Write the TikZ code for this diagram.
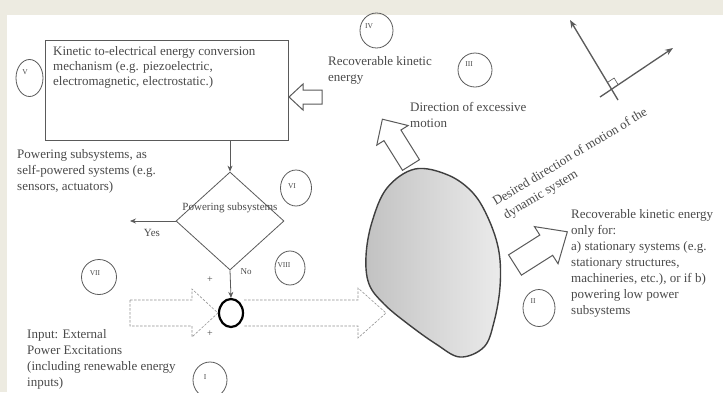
\documentclass[tikz,border=0pt]{standalone}
\usepackage{fontspec}
\setmainfont{Liberation Serif}
\usetikzlibrary{arrows.meta,shapes.geometric}
\definecolor{bg}{HTML}{EDEBE1}
\definecolor{ink}{HTML}{4A4A4A}
\definecolor{ln}{HTML}{5A5A5A}
\definecolor{blobdark}{HTML}{C2C2C2}
\definecolor{bloblight}{HTML}{EBEBEB}
\begin{document}
\begin{tikzpicture}[x=1pt,y=-1pt,
  txt/.style={font=\fontsize{13}{16}\selectfont, text=ink, align=left, anchor=north west, inner sep=0pt},
  num/.style={font=\fontsize{7.5}{8}\selectfont, text=ink, inner sep=0pt},
  ring/.style={ellipse, draw=ln, line width=0.8pt, inner sep=0pt},
  flow/.style={draw=ln, line width=0.8pt, -{Stealth[length=6pt,width=5pt]}},
  axarrow/.style={draw=ln, line width=1.3pt, -{Stealth[length=8pt,width=6pt]}},
  hollow/.style={draw=ln, line width=1pt, fill=white, line join=miter},
  dasharrow/.style={draw=gray!85, line width=0.6pt, dash pattern=on 2.5pt off 1.5pt}]
\useasboundingbox (0,0) rectangle (723,392);
\fill[bg] (0,0) rectangle (723,392);
\fill[white] (7,15) rectangle (723,392);

% conversion box
\node[draw=ln, line width=0.8pt, minimum width=243, minimum height=100, inner sep=0pt] (box) at (166.5,90) {};
\node[txt, font=\fontsize{13}{15}\selectfont] (boxt) at (53,46) {Kinetic to-electrical energy conversion\\mechanism (e.g. piezoelectric,\\electromagnetic, electrostatic.)};

% circles with numerals
\node[ring, minimum width=27, minimum height=37] (c5) at (29.5,78) {};
\node[num] (n5) at (25,72) {V};
\node[ring, minimum width=33, minimum height=35] (c4) at (376.5,30.5) {};
\node[num] (n4) at (369,26) {IV};
\node[ring, minimum width=34, minimum height=34] (c3) at (475,70) {};
\node[num] (n3) at (469,64) {III};
\node[ring, minimum width=31, minimum height=36] (c6) at (296,188) {};
\node[num] (n6) at (292,186) {VI};
\node[ring, minimum width=30, minimum height=34] (c8) at (290,268) {};
\node[num] (n8) at (284,265) {VIII};
\node[ring, minimum width=35, minimum height=35] (c7) at (99,277) {};
\node[num] (n7) at (95,273) {VII};
\node[ring, minimum width=34, minimum height=36] (c1) at (210,380) {};
\node[num] (n1) at (205,377) {I};
\node[ring, minimum width=32, minimum height=37] (c2) at (539,308) {};
\node[num] (n2) at (533,301) {II};

% texts
\node[txt] (rke) at (328,56) {Recoverable kinetic\\energy};
\node[txt] (dem) at (410,102) {Direction of excessive\\motion};
\node[txt] (pws) at (17,149) {Powering subsystems, as\\self-powered systems (e.g.\\sensors, actuators)};
\node[txt] (rko) at (571,209) {Recoverable kinetic energy\\only for:\\a) stationary systems (e.g.\\stationary structures,\\machineries, etc.), or if b)\\powering low power\\subsystems};
\node[txt, font=\fontsize{13}{17}\selectfont, rotate=31] (des) at (491,198) {Desired direction of motion of the\\\hspace*{2pt}dynamic system};
\node[txt] (inp) at (27,329) {Input: External\\Power Excitations\\(including renewable energy\\inputs)};

% decision diamond
\node[diamond, draw=ln, line width=0.8pt, minimum width=108, minimum height=98, inner sep=0pt] (dec) at (230,221) {};
\node[font=\fontsize{11}{12}\selectfont, text=ink, inner sep=0pt] (dect) at (230,208) {Powering subsystems};
\draw[flow] (box.south -| dec.north) -- (dec.north);
\coordinate (yesend) at (130,221);
\draw[flow] (dec.west) -- (yesend);
\node[font=\fontsize{11}{12}\selectfont, text=ink, inner sep=0pt] (yes) at (152,233) {Yes};

% summing ring
\node[ellipse, draw=black, line width=2.2pt, minimum width=24, minimum height=28, inner sep=0pt] (sum) at (231,313) {};
\draw[flow] (dec.south) -- (sum.north);
\node[font=\fontsize{9}{10}\selectfont, text=ink, inner sep=0pt] (no) at (246,272) {No};
\node[font=\fontsize{10}{10}\selectfont, text=ink, inner sep=0pt] (plusA) at (210,280) {+};
\node[font=\fontsize{10}{10}\selectfont, text=ink, inner sep=0pt] (plusB) at (210,334) {+};

% dashed arrows
\draw[dasharrow] (130,300) -- (192,300) -- (192,289) -- (sum.west) -- (192,337) -- (192,326) -- (130,326) -- cycle;
\draw[dasharrow] (sum.east |- 0,300) -- (358,300) -- (358,288) -- (386,313) -- (358,338) -- (358,326) -- (sum.east |- 0,326);

% blob
\shade[left color=blobdark, right color=bloblight, draw=ln!70!black, line width=1.4pt]
  plot[smooth cycle, tension=0.6] coordinates {(415,169) (448,175) (473,193) (489,220) (499,252) (500,287) (494,322) (484,347) (460,357) (436,344) (408,324) (384,304) (369,284) (366,256) (372,222) (387,188)};

% hollow arrows
\begin{scope}[shift={(322,97)}, rotate=180]
\draw[hollow] (0,-7) -- (19,-7) -- (19,-13) -- (33,0) -- (19,13) -- (19,7) -- (0,7) -- cycle;
\end{scope}
\begin{scope}[shift={(411,165)}, rotate=122]
\draw[hollow] (0,-10) -- (35,-10) -- (35,-18.5) -- (54,0) -- (35,18.5) -- (35,10) -- (0,10) -- cycle;
\end{scope}
\begin{scope}[shift={(515,265)}, rotate=32.4]
\draw[hollow] (0,-12) -- (37,-12) -- (37,-22) -- (62,0) -- (37,22) -- (37,12) -- (0,12) -- cycle;
\end{scope}

% axes
\coordinate (axAo) at (618,100);
\coordinate (axAe) at (570,20);
\coordinate (axBo) at (600,97);
\coordinate (axBe) at (673,48);
\draw[axarrow] (axAo) -- (axAe);
\draw[axarrow] (axBo) -- (axBe);
\draw[ln, line width=0.6pt] (607.5,82.4) -- (614.1,78.0) -- (618.2,84.8);
\end{tikzpicture}
\end{document}
